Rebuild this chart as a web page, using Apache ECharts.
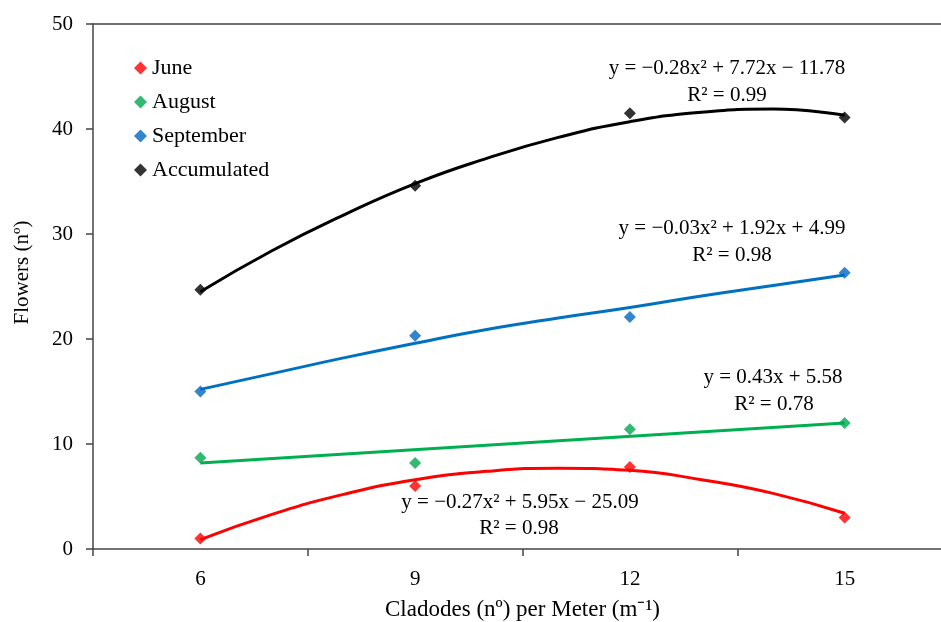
<!DOCTYPE html>
<html>
<head>
<meta charset="utf-8">
<script src="https://cdn.jsdelivr.net/npm/echarts@6/dist/echarts.min.js"></script>
<style>
  html, body { margin: 0; padding: 0; background: #fff; }
  #main { width: 941px; height: 622px; }
</style>
</head>
<body>
<div id="main"></div>
<script>
// cladodes per meter
var categories = ['6', '9', '12', '15'];
var xValues = [6, 9, 12, 15];

// observed flowers
var june = [1.0, 6.0, 7.8, 3.0];
var august = [8.7, 8.2, 11.4, 12.0];
var september = [15.0, 20.3, 22.1, 26.3];
var accumulated = [24.7, 34.6, 41.5, 41.1];

// trend lines
var trendX = [6, 7, 8, 9, 10, 11, 12, 13, 14, 15];
var juneTrend = [0.9, 3.3, 5.2, 6.6, 7.4, 7.7, 7.5, 6.6, 5.3, 3.4];
var augustTrendX = [6, 15];
var augustTrend = [8.2, 12.0];
var septemberTrend = [15.2, 16.7, 18.2, 19.6, 20.9, 22.0, 23.0, 24.1, 25.1, 26.1];
var accumulatedTrend = [24.5, 28.4, 31.8, 34.8, 37.2, 39.2, 40.7, 41.6, 41.9, 41.3];

var yTicks = [0, 10, 20, 30, 40, 50];

var FONT = 'Liberation Serif';
var axisColor = '#444';

function pairs(xs, ys) {
    return xs.map(function (x, i) { return [x, ys[i]]; });
}

function points(name, color, ys) {
    return {
        name: name,
        type: 'scatter',
        xAxisIndex: 1,
        symbol: 'diamond',
        symbolSize: 12,
        itemStyle: { color: color },
        data: pairs(xValues, ys),
        z: 5
    };
}

function trend(name, color, xs, ys) {
    return {
        name: name,
        type: 'line',
        xAxisIndex: 1,
        smooth: true,
        showSymbol: false,
        lineStyle: { color: color, width: 3 },
        data: pairs(xs, ys),
        z: 3
    };
}

function label(text, x, y) {
    return {
        type: 'text',
        x: x,
        y: y,
        style: {
            text: text,
            fontSize: 21,
            fontFamily: FONT,
            fill: '#000',
            align: 'center',
            verticalAlign: 'middle'
        }
    };
}

var myChart = echarts.init(document.getElementById('main'));
var option = {
    backgroundColor: '#fff',
    animation: false,
    textStyle: { fontFamily: FONT },
    grid: { left: 93, top: 24, width: 859, bottom: 73, outerBoundsMode: 'none', containLabel: false },
    legend: {
        orient: 'vertical',
        left: 129,
        top: 52,
        itemGap: 12,
        itemWidth: 13,
        itemHeight: 13,
        icon: 'diamond',
        textStyle: { fontSize: 22, fontFamily: FONT, color: '#000' },
        data: ['June', 'August', 'September', 'Accumulated']
    },
    xAxis: [{
        type: 'category',
        data: categories,
        boundaryGap: true,
        position: 'bottom',
        name: 'Cladodes (nº) per Meter (m⁻¹)',
        nameLocation: 'middle',
        nameGap: 49,
        nameTextStyle: { fontSize: 23, fontFamily: FONT, color: '#000' },
        axisLine: { lineStyle: { color: axisColor, width: 1.5 } },
        axisTick: { show: true, length: 7, lineStyle: { color: axisColor, width: 1.5 } },
        axisLabel: { fontSize: 21, fontFamily: FONT, color: '#000', margin: 20 },
        splitLine: { show: false }
    }, {
        type: 'value',
        min: 4.5,
        max: 16.5,
        position: 'top',
        axisLine: { show: true, lineStyle: { color: axisColor, width: 1.5 } },
        axisTick: { show: false },
        axisLabel: { show: false },
        splitLine: { show: false }
    }],
    yAxis: {
        type: 'value',
        min: yTicks[0],
        max: yTicks[yTicks.length - 1],
        interval: 10,
        name: 'Flowers (nº)',
        nameLocation: 'middle',
        nameGap: 60,
        nameTextStyle: { fontSize: 21, fontFamily: FONT, color: '#000', padding: [0, 0, 0, 28] },
        axisLine: { show: true, lineStyle: { color: axisColor, width: 1.5 } },
        axisTick: { show: true, length: 7, lineStyle: { color: axisColor, width: 1.5 } },
        axisLabel: { fontSize: 21, fontFamily: FONT, color: '#000', margin: 20 },
        splitLine: { show: false }
    },
    graphic: [
        label('y = −0.28x² + 7.72x − 11.78', 727, 68),
        label('R² = 0.99', 727, 95),
        label('y = −0.03x² + 1.92x + 4.99', 732, 228),
        label('R² = 0.98', 732, 255),
        label('y = 0.43x + 5.58', 773, 377),
        label('R² = 0.78', 774, 404),
        label('y = −0.27x² + 5.95x − 25.09', 520, 502),
        label('R² = 0.98', 519, 528)
    ],
    series: [
        trend('June trend', '#ff0000', trendX, juneTrend),
        trend('August trend', '#00b050', augustTrendX, augustTrend),
        trend('September trend', '#0070c0', trendX, septemberTrend),
        trend('Accumulated trend', '#000000', trendX, accumulatedTrend),
        points('June', '#ff0000', june),
        points('August', '#00a84f', august),
        points('September', '#0066c0', september),
        points('Accumulated', '#000000', accumulated)
    ]
};
myChart.setOption(option);
</script>
</body>
</html>
